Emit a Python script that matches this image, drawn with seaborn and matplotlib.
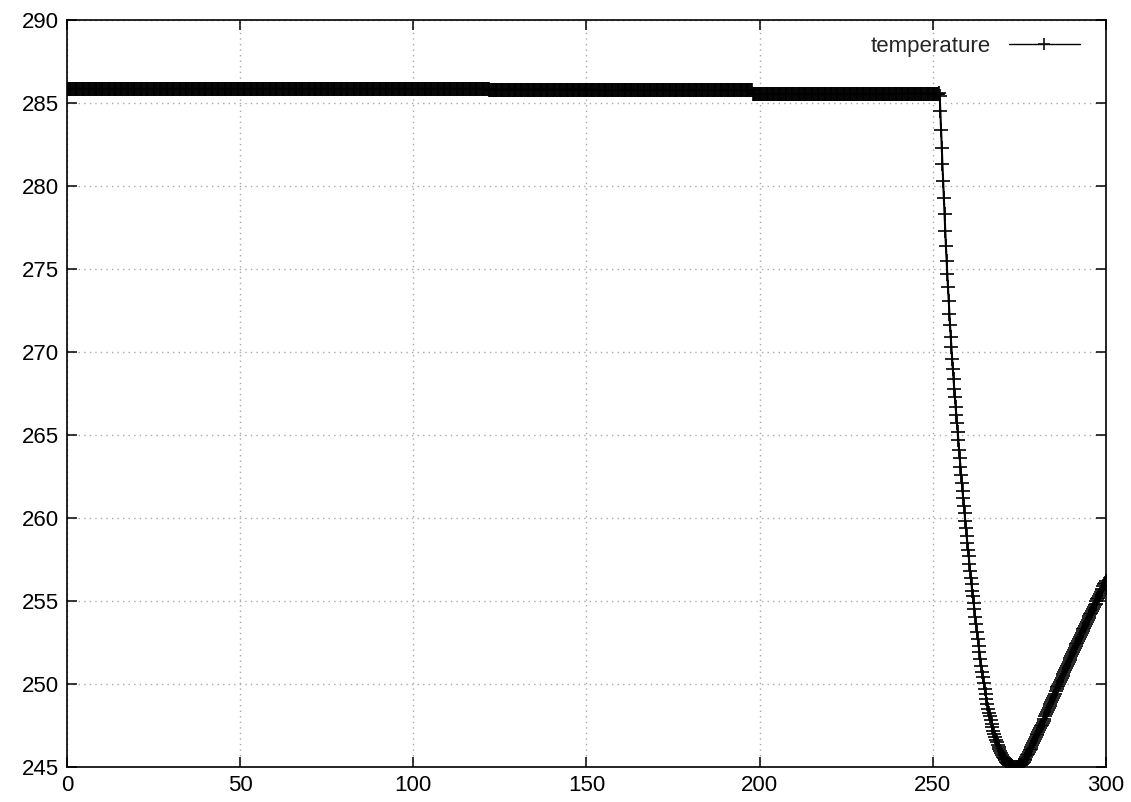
import numpy as np
import pandas as pd
import matplotlib
matplotlib.use("Agg")
import matplotlib.pyplot as plt
import seaborn as sns

# ---- data ----
# plateau (before the drop): x from 0 to 251.5 in 0.25 steps, level by segment
plateau_start = [0.0, 122.0, 153.0, 198.0, 240.0]
plateau_level = [285.85, 285.81, 285.77, 285.53, 285.56]

# steep drop, 0.2 steps (x = 251.6 ... 262.0)
drop_y = [285.55, 285.6, 285.4, 284.5, 283.4, 282.3, 281.3, 280.3, 279.3, 278.3,
          277.3, 276.4, 275.5, 274.7, 273.9, 273.1, 272.3, 271.6, 270.9, 270.3,
          269.6, 269.0, 268.4, 267.8, 267.3, 266.7, 266.2, 265.7, 265.2, 264.7,
          264.1, 263.6, 263.1, 262.6, 262.1, 261.6, 261.2, 260.7, 260.3, 259.8,
          259.4, 258.9, 258.5, 258.1, 257.7, 257.2, 256.8, 256.4, 256.0, 255.6,
          255.3, 254.9, 254.5]

# trough and recovery, 0.25 steps (x = 262.25 ... 300.0), one row per unit
tail_y = [
    254.05, 253.6, 253.15, 252.7,
    252.3, 251.9, 251.5, 251.1,
    250.75, 250.4, 250.05, 249.7,
    249.4, 249.1, 248.8, 248.5,
    248.27, 248.05, 247.82, 247.6,
    247.4, 247.2, 247.0, 246.8,
    246.65, 246.5, 246.35, 246.2,
    246.07, 245.95, 245.82, 245.7,
    245.62, 245.55, 245.47, 245.4,
    245.32, 245.25, 245.2, 245.15,
    245.12, 245.1, 245.07, 245.05,
    245.03, 245.02, 245.01, 245.0,
    245.01, 245.02, 245.03, 245.05,
    245.1, 245.15, 245.2, 245.25,
    245.32, 245.4, 245.5, 245.6,
    245.7, 245.8, 245.9, 246.0,
    246.1, 246.2, 246.32, 246.45,
    246.57, 246.7, 246.8, 246.9,
    247.0, 247.1, 247.22, 247.35,
    247.45, 247.55, 247.68, 247.8,
    247.92, 248.05, 248.18, 248.3,
    248.42, 248.55, 248.68, 248.8,
    248.92, 249.05, 249.18, 249.3,
    249.42, 249.55, 249.68, 249.8,
    249.9, 250.0, 250.12, 250.25,
    250.38, 250.5, 250.62, 250.75,
    250.85, 250.95, 251.08, 251.2,
    251.32, 251.45, 251.58, 251.7,
    251.8, 251.9, 252.02, 252.15,
    252.28, 252.4, 252.5, 252.6,
    252.72, 252.85, 252.95, 253.05,
    253.18, 253.3, 253.4, 253.5,
    253.62, 253.75, 253.85, 253.95,
    254.08, 254.2, 254.3, 254.4,
    254.52, 254.65, 254.75, 254.85,
    254.98, 255.1, 255.2, 255.3,
    255.42, 255.55, 255.65, 255.75,
    255.88, 256.0, 256.1, 256.2,
]

x_ticks = [0, 50, 100, 150, 200, 250, 300]
y_ticks = [245, 250, 255, 260, 265, 270, 275, 280, 285, 290]
series_label = "temperature"

# ---- build the table ----
flat_x = np.arange(0.0, 251.5, 0.25)
idx = np.searchsorted(plateau_start, flat_x, side="right") - 1
flat_y = np.array(plateau_level)[idx]
drop_x = 251.6 + 0.2 * np.arange(len(drop_y))
tail_x = 262.25 + 0.25 * np.arange(len(tail_y))

df = pd.DataFrame({
    "x": np.concatenate([flat_x, drop_x, tail_x]),
    "y": np.concatenate([flat_y, drop_y, tail_y]),
})
df["series"] = series_label

# ---- style ----
sns.set_style("white")
plt.rcParams["font.family"] = ["Liberation Sans", "DejaVu Sans"]

fig = plt.figure(figsize=(11.31, 8.02), dpi=100)
ax = fig.add_axes([0.0592, 0.0436, 0.9186, 0.9315])

sns.lineplot(data=df, x="x", y="y", hue="series", palette=["#000000"],
             estimator=None, sort=False, marker="+", markersize=10,
             markeredgewidth=1.2, markeredgecolor="#000000",
             markerfacecolor="#000000", linewidth=1.5, ax=ax)

ax.set_xlim(0, 300)
ax.set_ylim(245, 290)
ax.set_xticks(x_ticks)
ax.set_yticks(y_ticks)
ax.set_xlabel("")
ax.set_ylabel("")

ax.grid(True, color="#a8a8a8", linestyle=(0, (1, 3)), linewidth=1.0)
ax.set_axisbelow(True)
for s in ax.spines.values():
    s.set_visible(True)
    s.set_color("black")
    s.set_linewidth(1.2)

ax.tick_params(direction="in", length=7, width=1.1, top=True, right=True,
               bottom=True, left=True, labelsize=16, colors="black", pad=6)

leg = ax.legend(loc="upper right", frameon=False, markerfirst=False,
                handlelength=3.2, fontsize=16, borderaxespad=0.3,
                bbox_to_anchor=(0.99, 1.0))
for h in leg.legend_handles:
    h.set_linewidth(1.0)
    h.set_markersize(8)
    h.set_markeredgecolor("#111111")

fig.savefig("out.png", dpi=100)
